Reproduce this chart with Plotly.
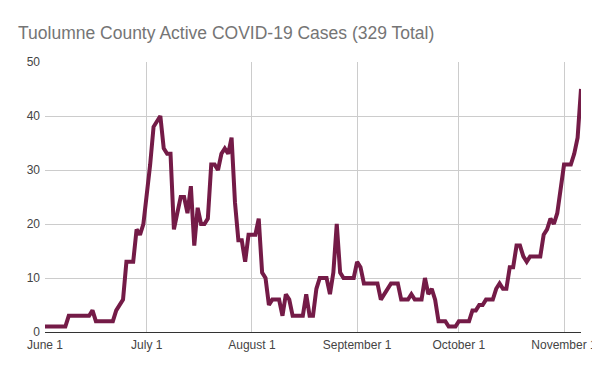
import plotly.graph_objects as go
import pandas as pd

start_date = "2020-06-01"
active_cases = [
    1, 1, 1, 1, 1, 1, 1, 3, 3, 3, 3, 3, 3, 3, 4, 2, 2, 2, 2, 2, 2, 4, 5, 6,
    13, 13, 13, 19, 18, 20, 25, 31, 38, 39, 40, 34, 33, 33, 19, 22, 25, 25, 22, 27,
    16, 23, 20, 20, 21, 31, 31, 30, 33, 34, 33, 36, 24, 17, 17, 13, 18, 18, 18, 21,
    11, 10, 5, 6, 6, 6, 3, 7, 6, 3, 3, 3, 3, 7, 3, 3, 8, 10, 10, 10, 7, 11, 20, 11,
    10, 10, 10, 10, 13, 12, 9, 9, 9, 9, 9, 6, 7, 8, 9, 9, 9, 6, 6, 6, 7, 6, 6, 6,
    10, 7, 8, 6, 2, 2, 2, 1, 1, 1, 2, 2, 2, 2, 4, 4, 5, 5, 6, 6, 6, 8, 9, 8, 8,
    12, 12, 16, 16, 14, 13, 14, 14, 14, 14, 18, 19, 21, 20, 22, 26, 31, 31, 31, 33, 36, 45,
]
dates = pd.date_range(start_date, periods=len(active_cases), freq="D")

tick_dates = ["2020-06-01", "2020-07-01", "2020-08-01", "2020-09-01", "2020-10-01", "2020-11-01"]
tick_labels = ["June 1", "July 1", "August 1", "September 1", "October 1", "November 1"]
y_ticks = [0, 10, 20, 30, 40, 50]

title_text = "Tuolumne County Active COVID-19 Cases (329 Total)"
font_family = "Arial, Liberation Sans, sans-serif"

# The page body has an 8px margin, so the figure is sized to fit the window.
W, H = 592, 363

fig = go.Figure()
fig.add_trace(go.Scatter(
    x=dates, y=active_cases, mode="lines",
    line=dict(color="#741b47", width=4),
    hoverinfo="x+y",
))

fig.update_layout(
    width=W, height=H,
    margin=dict(l=37, r=19, t=54, b=39, pad=0),
    paper_bgcolor="white", plot_bgcolor="white",
    showlegend=False,
    font=dict(family=font_family, size=12, color="#444444"),
    title=dict(text=title_text, x=10 / W, xanchor="left", y=1 - 25 / H, yanchor="middle",
               font=dict(family=font_family, size=17.5, color="#757575")),
)
fig.update_xaxes(
    type="date",
    range=[dates[0], dates[-1]],
    tickmode="array", tickvals=tick_dates, ticktext=tick_labels,
    showgrid=True, gridcolor="#cccccc", gridwidth=1,
    showline=True, linecolor="#333333", linewidth=1,
    ticks="", zeroline=False, automargin=False, ticklabelstandoff=2,
    tickfont=dict(size=12, color="#444444"),
)
fig.update_yaxes(
    range=[0, 50],
    tickmode="array", tickvals=y_ticks,
    showgrid=True, gridcolor="#cccccc", gridwidth=1,
    showline=False, zeroline=False, ticks="", automargin=False, ticklabelstandoff=4,
    tickfont=dict(size=12, color="#444444"),
)

fig.write_html("out.html")
